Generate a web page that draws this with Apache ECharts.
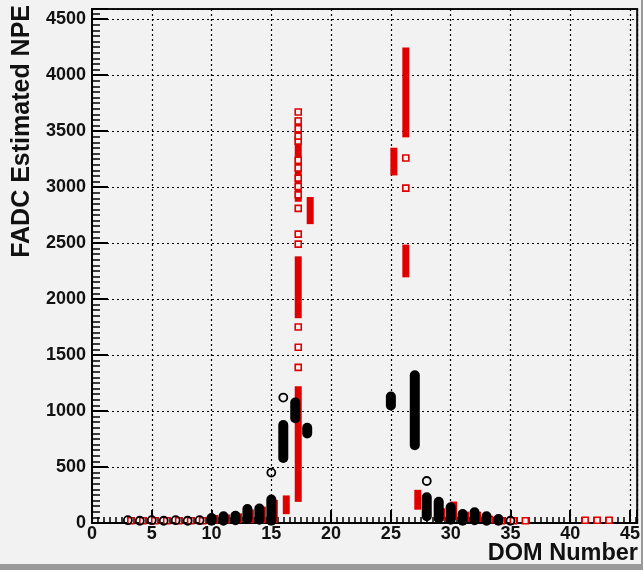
<!DOCTYPE html>
<html><head><meta charset="utf-8">
<script src="https://cdn.jsdelivr.net/npm/echarts@6/dist/echarts.min.js"></script>
<style>html,body{margin:0;padding:0;background:#f2f2f2}#c{width:643px;height:570px}</style>
</head><body><div id="c"></div>
<script>
// Black circles: dense clusters read as [DOM, lowest NPE, highest NPE]
const blackClusters = [
  [10,20,45],[11,20,60],[12,25,65],[13,35,125],[14,30,130],[15,20,210],
  [16,580,875],[17,935,1075],[18,800,850],[25,1050,1130],[27,695,1320],
  [28,60,230],[29,40,190],[30,30,140],[31,20,80],[32,25,95],[33,20,60],[34,20,35]
];
// Black circles: isolated readings [DOM, NPE]
const blackPoints = [
  [3,25],[4,20],[5,25],[6,20],[7,25],[8,20],[9,25],
  [15,450],[16,1120],[28,375],[35,20]
];
// Red squares: dense clusters [DOM, lowest NPE, highest NPE]
const redClusters = [
  [10,25,40],[11,25,45],[12,30,55],[13,30,90],[14,30,115],[15,30,175],
  [16,110,215],[17,220,1190],[17,1860,2350],[17,2900,3590],[18,2700,2880],
  [25,3135,3320],[26,2225,2455],[26,3475,4215],
  [27,150,265],[29,50,100],[30,60,160],[31,40,70],[32,40,70]
];
// Red squares: isolated readings [DOM, NPE]
const redPoints = [
  [3,20],[4,20],[5,20],[6,20],[7,20],[8,20],[9,20],
  [17,1390],[17,1570],[17,1750],[17,2490],[17,2580],[17,2810],
  [17,2930],[17,3005],[17,3080],[17,3170],[17,3240],[17,3410],[17,3455],[17,3520],[17,3590],[17,3670],
  [26,2990],[26,3260],
  [33,30],[34,20],[35,20],[36,20],[41,25],[42,25],[43,25]
];
const xTickLabels = [0,5,10,15,20,25,30,35,40,45];
const yTickLabels = [0,500,1000,1500,2000,2500,3000,3500,4000,4500];

const redOffset = 0.25;      // red markers drawn slightly right of the DOM number
const RED = '#e00000', BG = '#f2f2f2';
const FONT = '"Liberation Sans", Arial, sans-serif';

function bandRenderer(widthPx, capPx, color, radius) {
  return function (params, api) {
    const x = api.value(0), lo = api.value(1), hi = api.value(2);
    const pLo = api.coord([x, lo]), pHi = api.coord([x, hi]);
    return {
      type: 'rect',
      shape: {x: pLo[0] - widthPx / 2, y: pHi[1] - capPx, width: widthPx,
              height: pLo[1] - pHi[1] + 2 * capPx, r: radius},
      style: {fill: color}
    };
  };
}

const chart = echarts.init(document.getElementById('c'), null, {renderer:'canvas'});
chart.setOption({
  animation:false,
  backgroundColor:BG,
  grid:{left:92, right:4, top:9, bottom:47, show:true, borderColor:'#111', borderWidth:2, backgroundColor:'transparent'},
  xAxis:{
    type:'value', min:0, max:45.6, interval:5,
    axisLine:{show:true, onZero:false, lineStyle:{color:'#000', width:2}},
    axisTick:{show:true, inside:true, length:13, lineStyle:{color:'#000', width:2}},
    minorTick:{show:true, splitNumber:10, length:6, lineStyle:{color:'#000', width:1.5}},
    splitLine:{show:true, lineStyle:{color:'#000', width:1.2, type:[2,3]}},
    axisLabel:{show:true, margin:2, fontFamily:FONT, fontWeight:'bold', fontSize:18, color:'#111',
      formatter:v=> xTickLabels.includes(v) ? String(v) : ''}
  },
  yAxis:{
    type:'value', min:0, max:4590, interval:500,
    axisLine:{show:true, onZero:false, lineStyle:{color:'#000', width:2}},
    axisTick:{show:true, inside:true, length:16, lineStyle:{color:'#000', width:2}},
    minorTick:{show:true, splitNumber:10, length:8, lineStyle:{color:'#000', width:1.5}},
    splitLine:{show:true, lineStyle:{color:'#000', width:1.2, type:[2,3]}},
    axisLabel:{show:true, margin:6, fontFamily:FONT, fontWeight:'bold', fontSize:18, color:'#111',
      formatter:v=> yTickLabels.includes(v) ? String(v) : ''}
  },
  series:[
    {type:'custom', name:'red clusters', z:2, silent:true,
     data: redClusters.map(r=>[r[0]+redOffset, r[1], r[2]]),
     encode:{x:0, y:[1,2]},
     renderItem: bandRenderer(7, 3.5, RED, 0)},
    {type:'scatter', name:'red', z:3, silent:true,
     data: redPoints.map(p=>[p[0]+redOffset, p[1]]),
     symbol:'rect', symbolSize:6,
     itemStyle:{color:BG, borderColor:RED, borderWidth:1.6, opacity:1},
     emphasis:{disabled:true}},
    {type:'custom', name:'black clusters', z:4, silent:true,
     data: blackClusters,
     encode:{x:0, y:[1,2]},
     renderItem: bandRenderer(10, 5, '#000', 5)},
    {type:'scatter', name:'black', z:5, silent:true,
     data: blackPoints,
     symbol:'circle', symbolSize:8,
     itemStyle:{color:'rgba(0,0,0,0)', borderColor:'#000', borderWidth:1.8, opacity:1},
     emphasis:{disabled:true}}
  ],
  graphic:[
    {type:'text', x:22, y:5, rotation:Math.PI/2, z:10,
     style:{text:'FADC Estimated NPE', font:'bold 25px '+FONT, fill:'#111', align:'right', verticalAlign:'middle'}},
    {type:'text', x:638, y:554, z:10,
     style:{text:'DOM Number', font:'bold 23.5px '+FONT, fill:'#111', align:'right', verticalAlign:'middle'}},
    {type:'rect', shape:{x:0, y:564, width:643, height:6}, style:{fill:'#9a9a9a'}, z:1},
    {type:'rect', shape:{x:641, y:0, width:2, height:570}, style:{fill:'#9a9a9a'}, z:1}
  ]
});
</script>
</body></html>
